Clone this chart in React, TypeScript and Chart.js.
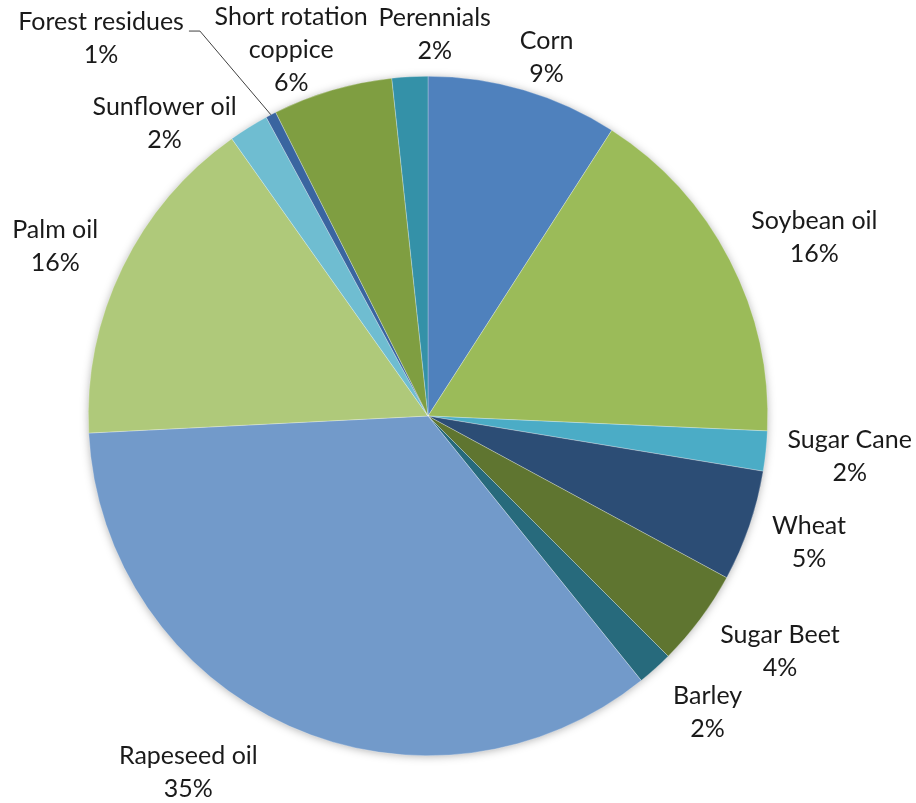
import React, { useEffect, useRef } from "react";
import { Chart, registerables } from "chart.js";

Chart.register(...registerables);

const categories = [
  "Corn",
  "Soybean oil",
  "Sugar Cane",
  "Wheat",
  "Sugar Beet",
  "Barley",
  "Rapeseed oil",
  "Palm oil",
  "Sunflower oil",
  "Forest residues",
  "Short rotation coppice",
  "Perennials",
];

const shares = [9.1, 16.6, 1.9, 5.3, 4.6, 1.7, 35.0, 16.0, 1.9, 0.5, 5.7, 1.7];

const percentLabels = ["9%", "16%", "2%", "5%", "4%", "2%", "35%", "16%", "2%", "1%", "6%", "2%"];

const labelLines = [
  ["Corn"],
  ["Soybean oil"],
  ["Sugar Cane"],
  ["Wheat"],
  ["Sugar Beet"],
  ["Barley"],
  ["Rapeseed oil"],
  ["Palm oil"],
  ["Sunflower oil"],
  ["Forest residues"],
  ["Short rotation", "coppice"],
  ["Perennials"],
];

const colors = [
  "#4F81BD",
  "#9BBB59",
  "#4BACC6",
  "#2C4D75",
  "#5F7530",
  "#276A7C",
  "#729ACA",
  "#AFC97A",
  "#6FBDD1",
  "#3A65A0",
  "#7F9E41",
  "#3491A8",
];

// label placement: polar angle (deg, clockwise from top) and distance as factor of radius
const labelAngle = [18.3, 65.2, 95.5, 108.4, 123.8, 136.7, 213.9, 294.5, 318, 319.1, 339.5, 1];
const labelDist = [1.112, 1.253, 1.247, 1.182, 1.247, 1.2, 1.265, 1.206, 1.159, 1.47, 1.15, 1.124];

const FONT = "25px Lato, 'Noto Sans', sans-serif";
const LINE_H = 33;

const labelPlugin = {
  id: "outerLabels",
  beforeDatasetsDraw(chart: any) {
    const meta = chart.getDatasetMeta(0);
    const arc = meta.data[0];
    if (!arc) return;
    const { x, y, outerRadius } = arc.getProps(["x", "y", "outerRadius"], true);
    const ctx = chart.ctx;
    ctx.save();
    ctx.shadowColor = "rgba(0,0,0,0.35)";
    ctx.shadowBlur = 10;
    ctx.shadowOffsetX = 0;
    ctx.shadowOffsetY = 1;
    ctx.beginPath();
    ctx.arc(x, y, outerRadius - 1, 0, Math.PI * 2);
    ctx.fillStyle = "#ffffff";
    ctx.fill();
    ctx.restore();
  },
  afterDatasetsDraw(chart: any) {
    const meta = chart.getDatasetMeta(0);
    const ctx = chart.ctx;
    ctx.save();
    ctx.font = FONT;
    ctx.fillStyle = "#1a1a1a";
    ctx.textAlign = "center";
    ctx.textBaseline = "middle";
    meta.data.forEach((arc: any, i: number) => {
      const { x, y, outerRadius, startAngle, endAngle } = arc.getProps(
        ["x", "y", "outerRadius", "startAngle", "endAngle"],
        true
      );
      const a = ((labelAngle[i] - 90) * Math.PI) / 180;
      const px = x + Math.cos(a) * outerRadius * labelDist[i];
      const py = y + Math.sin(a) * outerRadius * labelDist[i];
      const lines = [...labelLines[i], percentLabels[i]];
      const top = py - ((lines.length - 1) * LINE_H) / 2;
      lines.forEach((t, k) => ctx.fillText(t, px, top + k * LINE_H));
      if (categories[i] === "Forest residues") {
        const w = ctx.measureText(labelLines[i][0]).width;
        const sx = px + w / 2 + 5;
        const sy = top + 9;
        const mid = (startAngle + endAngle) / 2;
        const ex = x + Math.cos(mid) * outerRadius;
        const ey = y + Math.sin(mid) * outerRadius;
        ctx.beginPath();
        ctx.strokeStyle = "#404040";
        ctx.lineWidth = 1;
        ctx.moveTo(sx, sy);
        ctx.lineTo(sx + 11, sy);
        ctx.lineTo(ex, ey);
        ctx.stroke();
      }
    });
    ctx.restore();
  },
};

export default function App() {
  const ref = useRef<HTMLCanvasElement | null>(null);
  useEffect(() => {
    if (!ref.current) return;
    const chart = new Chart(ref.current, {
      type: "pie",
      data: {
        labels: categories,
        datasets: [
          {
            data: shares,
            backgroundColor: colors,
            borderColor: "rgba(255,255,255,0.45)",
            borderWidth: 0.6,
          },
        ],
      },
      options: {
        responsive: false,
        animation: false,
        layout: { padding: { left: 88, right: 148, top: 76, bottom: 47 } },
        plugins: {
          legend: { display: false },
          tooltip: { enabled: false },
        },
      },
      plugins: [labelPlugin],
    });
    return () => chart.destroy();
  }, []);
  return (
    <div style={{ position: "fixed", left: 0, top: 0, width: 916, height: 803, background: "#fff" }}>
      <canvas ref={ref} width={916} height={803} />
    </div>
  );
}
